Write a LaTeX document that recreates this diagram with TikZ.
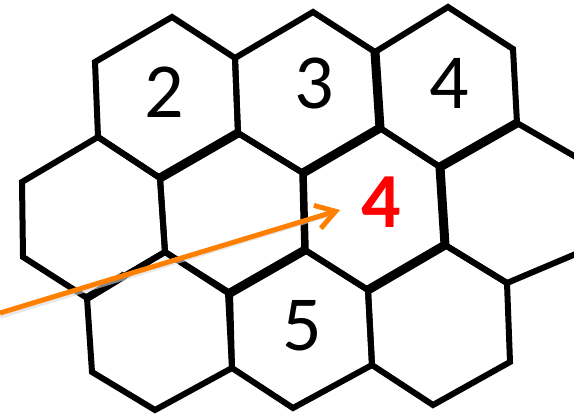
\documentclass[tikz,border=0pt]{standalone}
\usepackage{fontspec}
\setmainfont{Carlito}
\usetikzlibrary{arrows.meta}
\definecolor{arrorange}{RGB}{255,128,0}
\definecolor{hexred}{RGB}{255,0,0}
\tikzset{
  hexedge/.style={line width=6pt, line join=miter},
  thickedge/.style={line width=9pt},
  numlabel/.style={font=\fontsize{78}{78}\selectfont, inner sep=0pt},
  redlabel/.style={font=\fontsize{78}{78}\selectfont\bfseries, text=hexred, inner sep=0pt},
  pointer/.style={arrorange, line width=5pt, -{Straight Barb[length=19pt,width=24pt,line width=5pt]}},
  pointershadow/.style={black!15, line width=5.5pt, opacity=0.6}
}
\begin{document}
\begin{tikzpicture}[x=1pt,y=-1pt]
\useasboundingbox (0,0) rectangle (574,414);
\clip (0,0) rectangle (574,414);
\fill[white] (0,0) rectangle (574,414);
% hexagons
\draw[hexedge] (172,17) -- (235,58) -- (238,133) -- (160,178) -- (98,137) -- (95,62) -- cycle;
\draw[hexedge] (313,12) -- (375,52) -- (380,128) -- (303,173) -- (238,133) -- (235,58) -- cycle;
\draw[hexedge] (448,7) -- (513,49) -- (517,123) -- (440,167) -- (380,128) -- (375,52) -- cycle;
\draw[hexedge] (98,137) -- (160,178) -- (165,252) -- (87,298) -- (23,257) -- (22,182) -- cycle;
\draw[hexedge] (238,133) -- (303,173) -- (305,250) -- (230,293) -- (165,252) -- (160,178) -- cycle;
\draw[hexedge] (380,128) -- (440,167) -- (445,245) -- (368,290) -- (305,250) -- (303,173) -- cycle;
\draw[hexedge] (517,123) -- (595,168) -- (597,245) -- (507,283) -- (445,245) -- (440,167) -- cycle;
\draw[hexedge] (165,252) -- (228,293) -- (232,368) -- (155,410) -- (92,372) -- (87,298) -- cycle;
\draw[hexedge] (305,250) -- (368,290) -- (372,365) -- (293,408) -- (232,368) -- (230,293) -- cycle;
\draw[hexedge] (445,245) -- (507,283) -- (510,362) -- (433,405) -- (372,365) -- (368,290) -- cycle;
% overlapping (thicker) edges
\draw[thickedge] (160,178) -- (238,133);
\draw[thickedge] (375,52) -- (380,128);
\draw[thickedge] (303,173) -- (380,128);
\draw[thickedge] (440,167) -- (517,123);
\draw[thickedge] (440,167) -- (445,245);
\draw[thickedge] (368,290) -- (445,245);
\draw[thickedge] (230,293) -- (305,250);
\draw[line width=7.5pt] (303,173) -- (305,250);
\draw[line width=8pt] (87,298) -- (125,275);
% labels
\node[numlabel] (l2) at (164,92) {2};
\node[numlabel] (l3) at (314,83) {3};
\node[numlabel] (l4) at (449,83) {4};
\node[redlabel] (l4r) at (381,202) {4};
\node[numlabel] (l5) at (302,326) {5};
% pointer arrow
\coordinate (ptail) at (0,313);
\coordinate (ptip) at (340,210);
\draw[pointershadow] ([yshift=-3pt]ptail) -- ([yshift=-3pt,xshift=-8pt]ptip);
\draw[pointer] (ptail) -- (ptip);
\end{tikzpicture}
\end{document}
